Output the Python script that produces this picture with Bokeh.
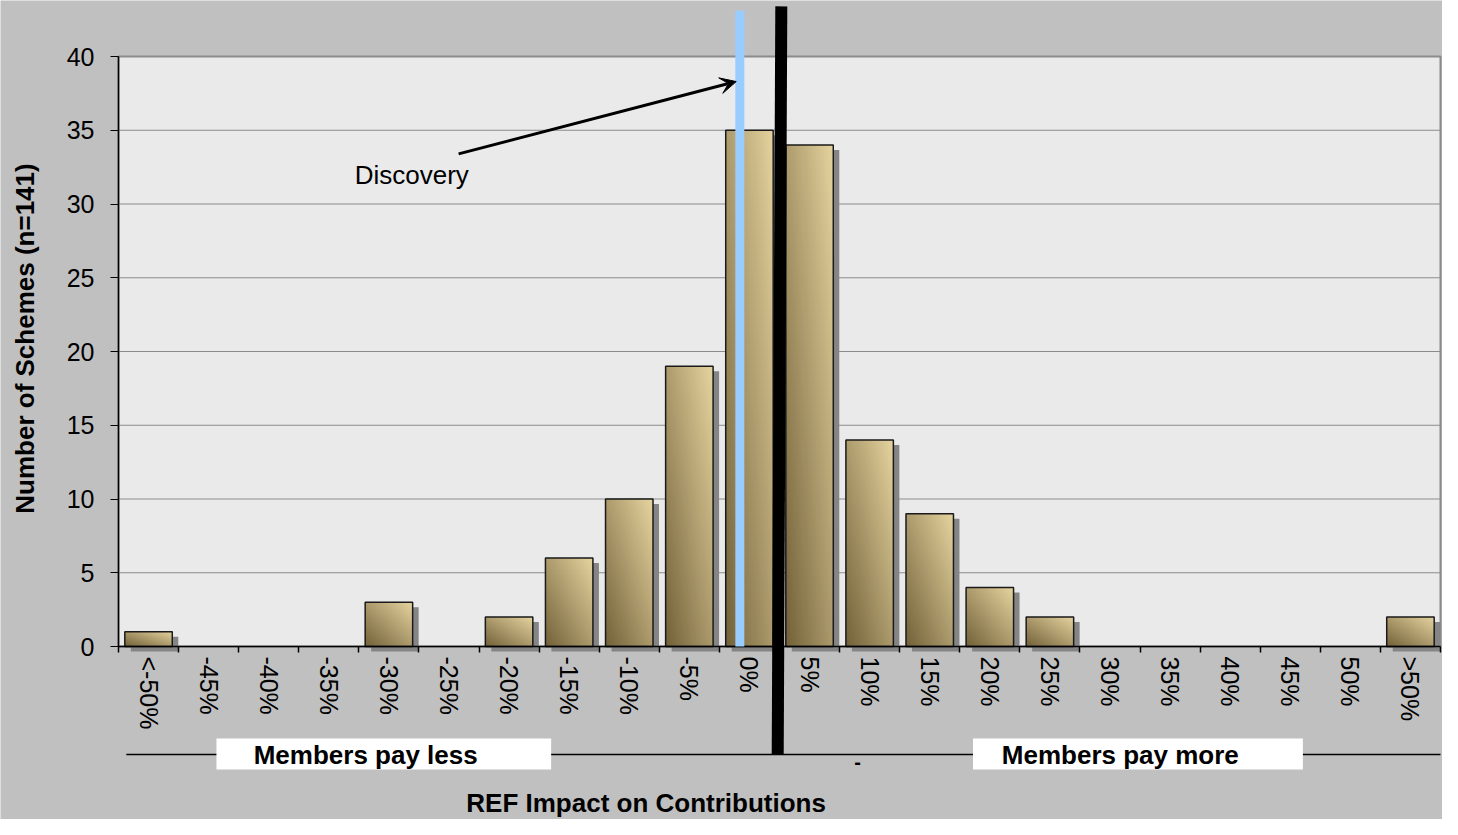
import numpy as np
from bokeh.plotting import figure
from bokeh.models import Range1d, FixedTicker, Arrow, VeeHead, Label, BoxAnnotation, ColumnDataSource
from bokeh.embed import file_html
from bokeh.resources import INLINE

# ---- data ----
categories = ["<-50%", "-45%", "-40%", "-35%", "-30%", "-25%", "-20%", "-15%", "-10%", "-5%", "0%",
              "5%", "10%", "15%", "20%", "25%", "30%", "35%", "40%", "45%", "50%", ">50%"]
counts = [1, 0, 0, 0, 3, 0, 2, 6, 10, 19, 35, 34, 14, 9, 4, 2, 0, 0, 0, 0, 0, 2]
y_ticks = [0, 5, 10, 15, 20, 25, 30, 35, 40]
Y_MAX = 40

# annotation positions (data units)
DISCOVERY_X = 10.34
DISCOVERY_TOP = 43.1
SPLIT_X_TOP = 11.03
SPLIT_X_BOTTOM = 10.97
SPLIT_TOP = 43.4
BASE_Y = -7.32

FONT = "Liberation Sans"
BAR_W = 0.79

n = len(categories)
centers = [i + 0.5 for i in range(n)]
nz = [i for i, c in enumerate(counts) if c > 0]
bx = [centers[i] for i in nz]
bv = [counts[i] for i in nz]

# canvas geometry: the frame covers the whole canvas so that the markers can run outside the plot area
W_PX, H_PX = 1442, 819
LEFT_PX, RIGHT_PX = 118, 1440        # canvas columns of x=0 and x=n
TOP_PX, ZERO_PX = 56, 646            # canvas rows of y=40 and y=0
px_x = (RIGHT_PX - LEFT_PX) / n
px_y = (ZERO_PX - TOP_PX) / Y_MAX
x_lo = -LEFT_PX / px_x
x_hi = n + (W_PX - RIGHT_PX) / px_x
y_top = Y_MAX + TOP_PX / px_y
y_bot = -(H_PX - ZERO_PX) / px_y

p = figure(width=W_PX, height=H_PX, x_range=Range1d(x_lo, x_hi), y_range=Range1d(y_bot, y_top),
           output_backend="svg", toolbar_location=None,
           min_border_left=0, min_border_right=0, min_border_top=0, min_border_bottom=0)
p.background_fill_color = "#c0c0c0"
p.border_fill_color = "#c0c0c0"
p.outline_line_color = None

# plot area
p.quad(left=[0], right=[n], bottom=[0], top=[Y_MAX], fill_color="#eaeaea",
       line_color="#8a8a8a", line_width=2, level="image")

# grid lines limited to the plot area
p.xgrid.visible = False
p.ygrid.visible = False
p.segment(x0=[0] * len(y_ticks), x1=[n] * len(y_ticks), y0=y_ticks, y1=y_ticks,
          line_color="#8c8c8c", line_width=1, level="underlay")

# y axis (drawn at x = 0)
p.yaxis.fixed_location = 0
p.yaxis.ticker = FixedTicker(ticks=y_ticks)
p.yaxis.bounds = (0, Y_MAX)
p.yaxis.major_label_text_font = FONT
p.yaxis.major_label_text_font_size = "25px"
p.yaxis.major_label_text_color = "black"
p.yaxis.major_label_standoff = 16
p.yaxis.major_tick_out = 8
p.yaxis.major_tick_in = 0
p.yaxis.minor_tick_out = 0
p.yaxis.axis_line_color = "black"
p.yaxis.axis_line_width = 1.5
p.yaxis.major_tick_line_color = "black"

# x axis (drawn at y = 0)
p.xaxis.fixed_location = 0
p.xaxis.bounds = (0, n)
p.xaxis.ticker = FixedTicker(ticks=centers, minor_ticks=list(range(n + 1)))
p.xaxis.major_label_overrides = {c: lab for c, lab in zip(centers, categories)}
p.xaxis.major_label_orientation = "vertical"
p.xaxis.major_label_text_font = FONT
p.xaxis.major_label_text_font_size = "25px"
p.xaxis.major_label_text_color = "black"
p.xaxis.major_label_standoff = 4
p.xaxis.major_tick_out = 0
p.xaxis.major_tick_in = 0
p.xaxis.minor_tick_out = 6
p.xaxis.minor_tick_in = 0
p.xaxis.minor_tick_line_color = "black"
p.xaxis.minor_tick_line_width = 1.5
p.xaxis.axis_line_color = "black"
p.xaxis.axis_line_width = 1.5

# axis titles
p.add_layout(Label(x=-1.55, y=20.88, text="Number of Schemes (n=141)", angle=np.pi / 2,
                   text_font=FONT, text_font_size="26px", text_font_style="bold",
                   text_align="center", text_baseline="middle", text_color="black"))
p.add_layout(Label(x=8.78, y=-10.6, text="REF Impact on Contributions", text_font=FONT,
                   text_font_size="26px", text_font_style="bold", text_baseline="middle",
                   text_align="center", text_color="black"))

# ---- bars: shadow, gradient fill, outline ----
sdx = 6 / px_x
sdy = 5 / px_y
shadow = ColumnDataSource(dict(x=[c + sdx for c in bx], top=[v - sdy for v in bv],
                               bottom=[-sdy] * len(bv)))
p.vbar(x="x", top="top", bottom="bottom", width=BAR_W, source=shadow,
       fill_color="#858585", line_color=None)

GH, GW = 64, 64
u = np.linspace(0, 1, GW)[None, :]
v = np.linspace(0, 1, GH)[:, None]
t = (u + v) / 2.0
dark = np.array([0x74, 0x63, 0x3a], dtype=float)
light = np.array([0xe6, 0xd4, 0xa0], dtype=float)
img = np.empty((GH, GW), dtype=np.uint32)
view = img.view(dtype=np.uint8).reshape((GH, GW, 4))
for k in range(3):
    view[:, :, k] = (dark[k] + (light[k] - dark[k]) * t).astype(np.uint8)
view[:, :, 3] = 255

p.image_rgba(image=[img] * len(bv), x=[c - BAR_W / 2 for c in bx], y=[0] * len(bv),
             dw=[BAR_W] * len(bv), dh=bv)
p.vbar(x=bx, top=bv, width=BAR_W, fill_alpha=0, line_color="#1a1a1a", line_width=1.5)

# ---- vertical markers ----
p.add_layout(Arrow(x_start=DISCOVERY_X, y_start=0, x_end=DISCOVERY_X, y_end=DISCOVERY_TOP,
                   end=None, line_color="#99ccff", line_width=9))
p.add_layout(Arrow(x_start=5.66, y_start=33.4, x_end=10.28, y_end=38.3,
                   end=VeeHead(size=16, fill_color="black", line_color="black"),
                   line_color="black", line_width=3))
p.add_layout(Label(x=3.93, y=32.0, text="Discovery", text_font=FONT, text_font_size="26px",
                   text_baseline="middle", text_color="black"))

# ---- bottom band ----
p.add_layout(Arrow(x_start=0.13, y_start=BASE_Y, x_end=n, y_end=BASE_Y, end=None,
                   line_color="black", line_width=1.5))
p.add_layout(BoxAnnotation(left=1.63, right=7.2, bottom=-8.34, top=-6.24,
                           fill_color="white", fill_alpha=1, line_color=None))
p.add_layout(BoxAnnotation(left=14.22, right=19.71, bottom=-8.34, top=-6.24,
                           fill_color="white", fill_alpha=1, line_color=None))
p.add_layout(Arrow(x_start=SPLIT_X_TOP, y_start=SPLIT_TOP, x_end=SPLIT_X_BOTTOM, y_end=BASE_Y,
                   end=None, line_color="black", line_width=12))
p.add_layout(Label(x=2.25, y=-7.35, text="Members pay less", text_font=FONT, text_font_size="26px",
                   text_font_style="bold", text_baseline="middle", text_color="black"))
p.add_layout(Label(x=14.7, y=-7.35, text="Members pay more", text_font=FONT, text_font_size="26px",
                   text_font_style="bold", text_baseline="middle", text_color="black"))
p.add_layout(Label(x=12.3, y=-7.86, text="-", text_font=FONT, text_font_size="20px",
                   text_font_style="bold", text_baseline="middle", text_align="center", text_color="black"))

open("out.html", "w").write(file_html(p, INLINE))
